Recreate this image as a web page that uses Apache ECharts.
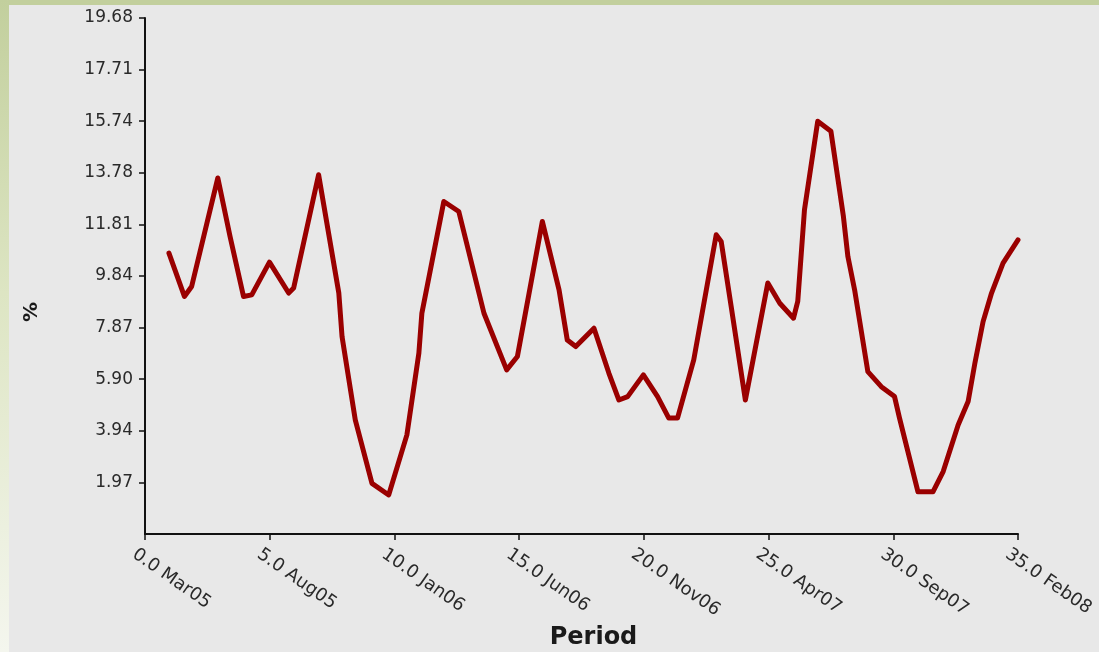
<!DOCTYPE html>
<html>
<head>
<meta charset="utf-8">
<script src="https://cdn.jsdelivr.net/npm/echarts@6/dist/echarts.min.js"></script>
<style>
  html, body { margin: 0; padding: 0; width: 1099px; height: 652px; overflow: hidden; }
  body { background: #e8e8e8; position: relative; }
  #topband { position: absolute; left: 0; top: 0; width: 1099px; height: 5px; background: #c2cf9d; }
  #leftband { position: absolute; left: 0; top: 0; width: 9px; height: 652px;
    background: linear-gradient(to bottom, #c2cf9d 0%, #dde5c3 45%, #f4f6ee 100%); }
  #chart { position: absolute; left: 0; top: 0; width: 1099px; height: 652px; }
</style>
</head>
<body>
<div id="topband"></div>
<div id="leftband"></div>
<div id="chart"></div>
<script>
// period index (0 = Mar05) and rate in %
const periods = [0.96, 1.58, 1.87, 2.92, 3.41, 3.95, 4.28, 4.99, 5.76, 5.96,
  6.96, 7.77, 7.9, 8.43, 9.1, 9.77, 10.5, 10.98, 11.1, 11.98,
  12.58, 13.59, 14.5, 14.93, 15.93, 16.6, 16.93, 17.27, 18.0, 18.6,
  19.0, 19.35, 19.98, 20.55, 21.0, 21.35, 22.0, 22.9, 23.1, 23.5,
  24.07, 24.97, 25.45, 26.0, 26.17, 26.44, 26.97, 27.5, 28.0, 28.18,
  28.45, 28.98, 29.52, 30.05, 30.25, 30.99, 31.59, 32.0, 32.6, 33.0,
  33.27, 33.6, 33.94, 34.4, 35.0]
const rates = [10.71, 9.06, 9.44, 13.58, 11.35, 9.06, 9.12, 10.37, 9.19, 9.38,
  13.70, 9.19, 7.53, 4.35, 1.93, 1.49, 3.78, 6.90, 8.42, 12.68,
  12.30, 8.42, 6.26, 6.77, 11.92, 9.31, 7.40, 7.15, 7.85, 6.13,
  5.11, 5.24, 6.07, 5.24, 4.42, 4.42, 6.64, 11.41, 11.16, 8.68,
  5.11, 9.57, 8.80, 8.23, 8.87, 12.37, 15.74, 15.36, 12.11, 10.58,
  9.31, 6.19, 5.62, 5.24, 4.42, 1.61, 1.61, 2.38, 4.16, 5.05,
  6.51, 8.10, 9.19, 10.33, 11.22]
const monthLabels = { 0: 'Mar05', 5: 'Aug05', 10: 'Jan06', 15: 'Jun06', 20: 'Nov06', 25: 'Apr07', 30: 'Sep07', 35: 'Feb08' }

const yStep = 1.968
const yMax = 19.68

const chart = echarts.init(document.getElementById('chart'))

chart.setOption({
  backgroundColor: 'transparent',
  animation: false,
  grid: { left: 145, right: 81, top: 18, bottom: 118, outerBoundsMode: 'none' },
  xAxis: {
    type: 'value',
    min: 0,
    max: 35,
    interval: 5,
    name: 'Period',
    nameLocation: 'middle',
    nameGap: 89,
    nameTextStyle: { fontFamily: 'DejaVu Sans', fontWeight: 'bold', fontSize: 24, color: '#1a1a1a', padding: [0, 0, 0, 24] },
    axisLine: { lineStyle: { color: '#111', width: 2 } },
    axisTick: { length: 6, lineStyle: { color: '#111', width: 1.5 } },
    splitLine: { show: false },
    axisLabel: {
      rotate: -35,
      margin: 3,
      verticalAlign: 'top',
      padding: [10, 0, 0, 0],
      fontFamily: 'DejaVu Sans',
      fontSize: 18,
      color: '#2a2a2a',
      formatter: v => v.toFixed(1) + ' ' + monthLabels[v]
    }
  },
  yAxis: {
    type: 'value',
    min: 0,
    max: yMax,
    interval: yStep,
    name: '%',
    nameLocation: 'middle',
    nameRotate: 90,
    nameGap: 103,
    nameTextStyle: { fontFamily: 'DejaVu Sans', fontWeight: 'bold', fontSize: 20, color: '#1a1a1a', padding: [0, 72, 0, 0] },
    axisLine: { show: true, lineStyle: { color: '#111', width: 2 } },
    axisTick: { show: true, length: 6, lineStyle: { color: '#111', width: 1.5 } },
    splitLine: { show: false },
    axisLabel: {
      showMinLabel: false,
      margin: 12,
      fontFamily: 'DejaVu Sans',
      fontSize: 17,
      color: '#2a2a2a',
      formatter: v => v.toFixed(2)
    }
  },
  series: [
    {
      type: 'line',
      data: periods.map((p, i) => [p, rates[i]]),
      showSymbol: false,
      lineStyle: { color: '#9a0000', width: 5, join: 'round', cap: 'round' }
    }
  ]
})
</script>
</body>
</html>
